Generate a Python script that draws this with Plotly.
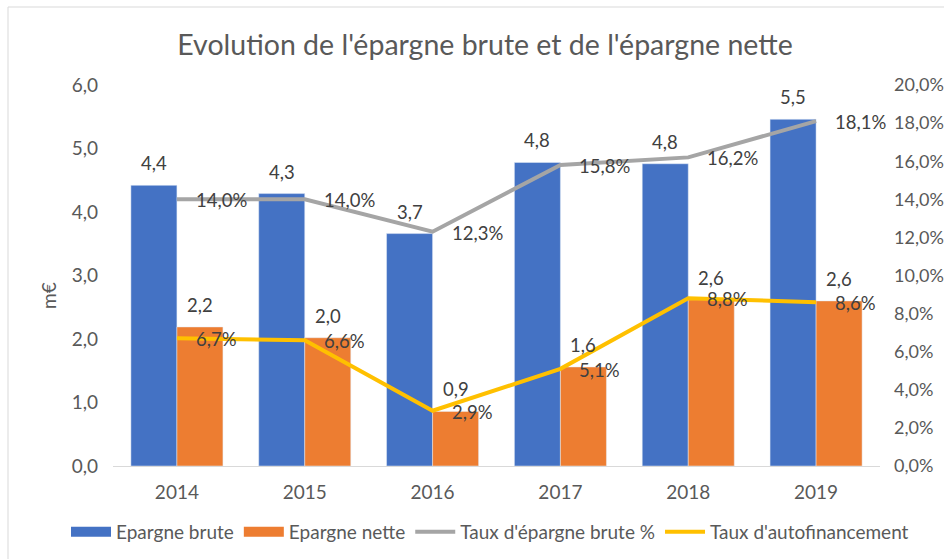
import plotly.graph_objects as go

years = ["2014", "2015", "2016", "2017", "2018", "2019"]
epargne_brute = [4.42, 4.29, 3.66, 4.78, 4.76, 5.46]
epargne_nette = [2.19, 2.02, 0.86, 1.56, 2.62, 2.60]
taux_epargne_brute = [14.0, 14.0, 12.3, 15.8, 16.2, 18.1]
taux_autofinancement = [6.7, 6.6, 2.9, 5.1, 8.8, 8.6]

title = "Evolution de l'épargne brute et de l'épargne nette"
y_title = "m€"
names = ["Epargne brute", "Epargne nette", "Taux d'épargne brute %", "Taux d'autofinancement"]

BLUE = "#4472C4"
ORANGE = "#ED7D31"
GRAY = "#A5A5A5"
YELLOW = "#FFC000"
TXT = "#595959"
LBL = "#404040"
FONT = "Lato, 'Open Sans', sans-serif"
FS = 19


def fr(v, suffix=""):
    return f"{v:.1f}".replace(".", ",") + suffix


fig = go.Figure()
fig.add_trace(go.Bar(x=years, y=epargne_brute, name=names[0], marker_color=BLUE,
                     showlegend=False, hoverinfo="y"))
fig.add_trace(go.Bar(x=years, y=epargne_nette, name=names[1], marker_color=ORANGE,
                     showlegend=False, hoverinfo="y"))
# legend-only entries drawn as wide rectangles (Excel style)
fig.add_trace(go.Scatter(x=[years[0]], y=[None], mode="lines", name=names[0],
                         line=dict(color=BLUE, width=10), hoverinfo="skip"))
fig.add_trace(go.Scatter(x=[years[0]], y=[None], mode="lines", name=names[1],
                         line=dict(color=ORANGE, width=10), hoverinfo="skip"))
fig.add_trace(go.Scatter(x=years, y=taux_epargne_brute, name=names[2], mode="lines",
                         line=dict(color=GRAY, width=4), yaxis="y2"))
fig.add_trace(go.Scatter(x=years, y=taux_autofinancement, name=names[3], mode="lines",
                         line=dict(color=YELLOW, width=4), yaxis="y2"))

L, R, T, B = 113, 64, 85, 93
W, H = 944, 559
pw, ph = W - L - R, H - T - B

ann = []
for i, (b, n, tb, ta) in enumerate(zip(epargne_brute, epargne_nette,
                                       taux_epargne_brute, taux_autofinancement)):
    ann.append(dict(x=i, y=b, xref="x", yref="y", text=fr(b), showarrow=False,
                    xshift=-23, yshift=22, yanchor="middle"))
    ann.append(dict(x=i, y=n, xref="x", yref="y", text=fr(n), showarrow=False,
                    xshift=23, yshift=22, yanchor="middle"))
    ann.append(dict(x=i, y=tb, xref="x", yref="y2", text=fr(tb, "%"), showarrow=False,
                    xanchor="left", xshift=17, yshift=-1, yanchor="middle"))
    ann.append(dict(x=i, y=ta, xref="x", yref="y2", text=fr(ta, "%"), showarrow=False,
                    xanchor="left", xshift=17, yshift=-1, yanchor="middle"))
for a in ann:
    a["font"] = dict(family=FONT, size=18.5, color=LBL)
# y-axis title
ann.append(dict(text=y_title, xref="paper", yref="paper", x=(48 - L) / pw,
                y=(T + ph - 276) / ph, xanchor="center", yanchor="middle",
                textangle=-90, showarrow=False, yshift=-20,
                font=dict(family=FONT, size=FS, color=TXT)))

fig.update_layout(
    width=W, height=H,
    margin=dict(l=L, r=R, t=T, b=B, autoexpand=False),
    paper_bgcolor="white", plot_bgcolor="white",
    separators=", ",
    font=dict(family=FONT, size=FS, color=TXT),
    title=dict(text=title, x=(485 - L) / pw, xref="paper",
               y=1 - 45 / H, yref="container", yanchor="middle", xanchor="center",
               font=dict(family=FONT, size=28.5, color=TXT)),
    barmode="group", bargap=0.28, bargroupgap=0,
    xaxis=dict(type="category", categoryorder="array", categoryarray=years,
               range=[-0.5, len(years) - 0.5], automargin=False,
               showline=True, linecolor="#D9D9D9", linewidth=1,
               showgrid=False, ticks="", ticklabelstandoff=9,
               tickfont=dict(size=FS, color=TXT)),
    yaxis=dict(range=[0, 6], dtick=1, tickformat=".1f", showgrid=False, zeroline=False,
               showline=False, ticks="", ticklabelstandoff=14, automargin=False,
               tickfont=dict(size=FS, color=TXT)),
    yaxis2=dict(range=[0, 20], dtick=2, tickformat=".1f", ticksuffix="%", overlaying="y",
                side="right", showgrid=False, zeroline=False, showline=False, ticks="",
                ticklabelstandoff=13, automargin=False, tickfont=dict(size=18, color=TXT)),
    legend=dict(orientation="h", x=(66 - L) / pw, xanchor="left",
                y=(T + ph - 532) / ph, yanchor="middle", itemwidth=40,
                font=dict(size=FS, color=TXT), bgcolor="rgba(0,0,0,0)"),
    annotations=ann,
    shapes=[dict(type="rect", xref="paper", yref="paper",
                 x0=(8 - L) / pw, x1=(W + 20 - L) / pw,
                 y0=(T + ph - (H + 20)) / ph, y1=(T + ph - 7) / ph,
                 line=dict(color="#D9D9D9", width=1), fillcolor="rgba(0,0,0,0)",
                 layer="below")],
)

fig.write_html("out.html", config={"displayModeBar": False},
               post_script="document.body.style.margin='0';")
